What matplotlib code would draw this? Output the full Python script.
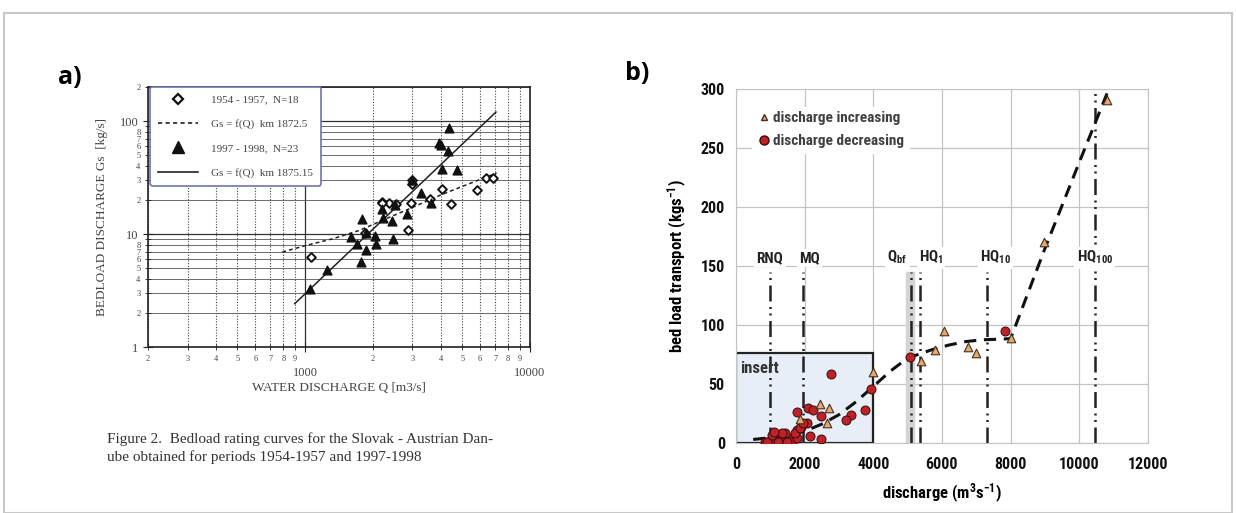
import matplotlib.pyplot as plt
import matplotlib.ticker as mticker
from matplotlib import font_manager
from matplotlib.patches import Rectangle
from matplotlib.lines import Line2D

# ---------------- panel a data (log-log rating curves) ----------------
q_5457 = [1067, 1855, 2186, 2365, 2531, 2873, 2942, 2990, 2990, 3589, 4074, 4436, 5786, 6346, 6868, 2186]
gs_5457 = [6.3, 10.3, 19.2, 19.0, 18.6, 10.9, 19.0, 27.9, 30.2, 20.5, 25.2, 18.6, 24.3, 31.5, 31.5, 19.0]

q_9798 = [1049, 1257, 1591, 1703, 1769, 1799, 1862, 1862, 2042, 2060, 2186, 2208, 2446,
          2463, 2500, 2844, 2990, 3260, 3612, 3948, 4030, 4054, 4328, 4370, 4713]
gs_9798 = [3.28, 4.77, 9.4, 8.1, 5.65, 13.7, 7.2, 10.3, 9.6, 8.2, 16.8, 13.9, 13.0,
           9.1, 17.9, 14.9, 29.9, 23.1, 18.8, 63.9, 60.9, 37.9, 54.3, 87.3, 37.1]

fit_5457_q = [792, 1013, 1331, 1750, 2300, 3024, 3973, 5224, 7105]
fit_5457_gs = [6.93, 7.94, 9.09, 10.8, 13.7, 17.3, 22.0, 27.3, 34.7]
fit_9798_q = [899, 7056]
fit_9798_gs = [2.42, 120]

# ---------------- panel b data (linear) ----------------
inc_q = [3990, 2433, 2706, 2647, 1869, 6053, 5392, 5810, 6754, 6998, 8020, 8973, 10803]
inc_gs = [60.4, 32.8, 29.4, 17.2, 20.0, 95.2, 69.5, 78.8, 81.6, 76.0, 88.7, 170.6, 290.7]

dec_q = [2764, 3922, 3766, 3348, 3212, 2111, 2257, 1772, 2472, 2063, 1898, 1772, 2161, 2472,
         847, 1042, 1188, 1334, 1382, 1528, 1625, 1772, 1723, 1869, 1966, 1236, 1431,
         890, 1035, 1326, 1100, 1480, 5060, 7825]
dec_gs = [58.5, 45.5, 28.0, 23.7, 19.5, 29.4, 28.0, 26.5, 22.9, 16.7, 13.3, 11.0, 5.9, 3.1,
          1.1, 4.0, 6.8, 5.6, 2.5, 4.0, 1.7, 4.0, 8.2, 12.7, 17.2, 1.1, 8.5,
          0.6, 7.0, 8.4, 9.0, 1.0, 72.6, 94.9]

curve_q = [500, 1000, 1500, 2000, 2500, 3000, 3500, 4000, 4500, 5000, 5300, 5700, 6200,
           6700, 7200, 7700, 8000, 9000, 10000, 10860]
curve_gs = [3, 4.5, 6.5, 10, 16, 24, 35, 48, 61, 72, 75, 79, 83, 86, 87.5, 88, 88.5, 165, 238, 300]

ref_names = ['RNQ', 'MQ', r'Q$_{\mathbf{bf}}$', r'HQ$_{\mathbf{1}}$', r'HQ$_{\mathbf{10}}$', r'HQ$_{\mathbf{100}}$']
ref_q = [990, 1950, 5100, 5350, 7300, 10450]

plt.rcParams['mathtext.default'] = 'bf'


# pick a narrow sans font if one is installed (reference uses Calibri-like text)
def narrow_font():
    fl = font_manager.fontManager.ttflist
    for pref in ['Liberation Sans Narrow', 'Roboto Condensed', 'Open Sans Condensed',
                 'DejaVu Sans', 'Noto Sans', 'Open Sans', 'Roboto', 'Inter']:
        for f in fl:
            if f.name == pref and ('Narrow' in pref or 'Condensed' in pref
                                   or str(f.stretch) in ('condensed', 'semi-condensed')):
                return pref
    return None


NARROW = narrow_font()
if NARROW:
    SANS = dict(family=NARROW, stretch='condensed')
    tick_fs, leg_fs, lab_fs, ref_fs, ins_fs = 11.5, 11, 12, 11, 12
    try:
        plt.rcParams['mathtext.fontset'] = 'custom'
        plt.rcParams['mathtext.bf'] = '%s:weight=bold:stretch=condensed' % NARROW
        plt.rcParams['mathtext.rm'] = '%s:weight=bold:stretch=condensed' % NARROW
    except Exception:
        plt.rcParams['mathtext.fontset'] = 'dejavusans'
else:
    SANS = dict(family='DejaVu Sans')
    tick_fs, leg_fs, lab_fs, ref_fs, ins_fs = 8.5, 8.3, 9.5, 8.5, 9
SERIF = 'Liberation Serif'

fig = plt.figure(figsize=(12.36, 5.13), dpi=100)
fig.patches.append(Rectangle((4 / 1236, 0), 1228 / 1236, 500 / 513, transform=fig.transFigure,
                             fill=False, edgecolor='#c8c8c8', lw=1.5, zorder=0))

# ================= panel a =================
ax = fig.add_axes([148 / 1236, 1 - 347 / 513, 382 / 1236, 260 / 513])
ax.set_xscale('log')
ax.set_yscale('log')
ax.set_xlim(200, 10000)
ax.set_ylim(1, 200)

ax.plot(fit_5457_q, fit_5457_gs, ls=(0, (2.5, 2)), color='#222', lw=1.1)
ax.plot(fit_9798_q, fit_9798_gs, '-', color='#222', lw=1.1)
ax.scatter(q_5457, gs_5457, marker='D', s=20, facecolor='white', edgecolor='#111', lw=1.4, zorder=3)
ax.scatter(q_9798, gs_9798, marker='^', s=40, color='#111', zorder=3)

ax.xaxis.set_major_locator(mticker.FixedLocator([1000, 10000]))
ax.xaxis.set_minor_locator(mticker.LogLocator(subs=range(2, 10), numticks=20))
ax.xaxis.set_major_formatter(mticker.FuncFormatter(lambda v, p: '%d' % v))
ax.yaxis.set_major_locator(mticker.FixedLocator([1, 10, 100]))
ax.yaxis.set_minor_locator(mticker.LogLocator(subs=range(2, 10), numticks=20))
ax.yaxis.set_major_formatter(mticker.FuncFormatter(lambda v, p: '%d' % v))


def lead_digit(v):
    return int(round(v / 10 ** (len(str(int(round(v)))) - 1)))


ax.xaxis.set_minor_formatter(mticker.FuncFormatter(lambda v, p: str(lead_digit(v))))
ax.yaxis.set_minor_formatter(mticker.FuncFormatter(lambda v, p: '' if lead_digit(v) == 9 else str(lead_digit(v))))
ax.tick_params(which='both', direction='inout', color='#222', labelcolor='#444')
ax.tick_params(which='major', length=7, labelsize=9)
ax.tick_params(which='minor', length=4, labelsize=6)
ax.tick_params(axis='x', which='major', pad=11)
ax.tick_params(axis='x', which='minor', pad=4)
for lab in ax.get_xticklabels(which='both') + ax.get_yticklabels(which='both'):
    lab.set_family(SERIF)

ax.grid(True, which='major', axis='both', color='#333', lw=0.9)
ax.grid(True, which='minor', axis='y', color='#555', lw=0.6)
ax.grid(True, which='minor', axis='x', color='#444', lw=0.8, ls=(0, (1, 1.5)))
for s in ax.spines.values():
    s.set_color('#222')
    s.set_linewidth(1.2)

ax.set_xlabel('WATER DISCHARGE Q [m3/s]', family=SERIF, fontsize=9.5, color='#444', labelpad=2)
ax.set_ylabel('BEDLOAD DISCHARGE Gs  [kg/s]', family=SERIF, fontsize=9.5, color='#444', labelpad=8)

handles = [Line2D([], [], marker='D', ls='none', ms=5.5, mfc='white', mec='#111', mew=1.6),
           Line2D([], [], ls=(0, (2.5, 2)), color='#222', lw=1.2),
           Line2D([], [], marker='^', ls='none', ms=9, color='#111'),
           Line2D([], [], ls='-', color='#222', lw=1.2)]
labels = ['1954 - 1957,  N=18', 'Gs = f(Q)  km 1872.5', '1997 - 1998,  N=23', 'Gs = f(Q)  km 1875.15']
leg = ax.legend(handles, labels, loc='upper left', bbox_to_anchor=(0.006, 1.0), borderaxespad=0,
                prop={'family': SERIF, 'size': 8}, labelspacing=1.3, handlelength=3.6,
                handletextpad=1.2, borderpad=0.7, framealpha=1, fancybox=True)
leg.get_frame().set_edgecolor('#6a78a8')
leg.get_frame().set_linewidth(1.2)
for t in leg.get_texts():
    t.set_color('#444')

fig.text(70 / 1236, 1 - 77 / 513, 'a)', fontsize=18, fontweight='bold', family=['Open Sans', 'DejaVu Sans'],
         ha='center', va='center')
fig.text(107 / 1236, 1 - 448 / 513,
         'Figure 2.  Bedload rating curves for the Slovak - Austrian Dan-\nube obtained for periods 1954-1957 and 1997-1998',
         family=SERIF, fontsize=11, color='#333', va='center', linespacing=1.45)

# ================= panel b =================
bx = fig.add_axes([736 / 1236, 1 - 443 / 513, 412 / 1236, 354 / 513])
bx.set_xlim(0, 12000)
bx.set_ylim(0, 300)
bx.set_xticks(range(0, 12001, 2000))
bx.set_yticks(range(0, 301, 50))
bx.grid(True, color='#c4c4c4', lw=0.9)
bx.set_axisbelow(True)
for s in bx.spines.values():
    s.set_color('#c4c4c4')
bx.tick_params(length=0, labelsize=tick_fs, pad=8, labelcolor='#111')
bx.tick_params(axis='x', pad=10)
for lab in bx.get_xticklabels() + bx.get_yticklabels():
    lab.set(**SANS)
    lab.set_fontweight('bold')

bx.add_patch(Rectangle((0, 0), 4000, 76, facecolor='#e8eef7', edgecolor='#222', lw=1.6, zorder=1.5))
bx.text(130, 63, 'insert', fontsize=ins_fs, fontweight='bold', color='#333', va='center', zorder=4, **SANS)

dd = (0, (6.4, 2.2, 0.8, 1.8, 0.8, 2.2))
bx.axvspan(4950, 5180, ymax=145 / 300, color='#d4d4d4', zorder=1.6)
for q in ref_q[:-1]:
    bx.plot([q, q], [0, 145], color='#222', lw=1.8, ls=dd, zorder=1.7)
bx.plot([ref_q[-1]] * 2, [0, 300], color='#222', lw=1.8, ls=dd, zorder=1.7)
label_q = [990, 2150, 4700, 5680, 7550, 10450]
for name, q in zip(ref_names, label_q):
    bx.text(q, 157, name, ha='center', va='center', fontsize=ref_fs, fontweight='bold',
            color='#222', zorder=2, bbox=dict(facecolor='white', edgecolor='none', pad=1.5), **SANS)

bx.plot(curve_q, curve_gs, color='#111', lw=2.2, ls=(0, (4, 2.5)), zorder=2.5)
bx.scatter(dec_q, dec_gs, s=42, marker='o', facecolor='#bd2229', edgecolor='#3a0a0a', lw=0.7, zorder=3)
bx.scatter(inc_q, inc_gs, s=38, marker='^', facecolor='#e4a877', edgecolor='#4a3018', lw=0.8, zorder=3)

lh = [Line2D([], [], marker='^', ls='none', ms=5, mfc='#e4a877', mec='#4a3018'),
      Line2D([], [], marker='o', ls='none', ms=6.5, mfc='#bd2229', mec='#3a0a0a')]
lg = bx.legend(lh, ['discharge increasing', 'discharge decreasing'], loc='upper left',
               bbox_to_anchor=(0.02, 0.972), frameon=True, framealpha=1, edgecolor='white',
               fancybox=False, prop=dict(size=leg_fs, weight='bold', **SANS),
               handletextpad=0.1, handlelength=1.0, labelspacing=0.6, borderpad=0.3)
for t in lg.get_texts():
    t.set_color('#404040')

bx.set_xlabel(r'discharge (m$^{3}$s$^{-1}$)', fontsize=lab_fs, fontweight='bold', labelpad=7, **SANS)
bx.set_ylabel(r'bed load transport (kgs$^{-1}$)', fontsize=lab_fs, fontweight='bold', labelpad=8, **SANS)

fig.text(637 / 1236, 1 - 73 / 513, 'b)', fontsize=18, fontweight='bold', family=['Open Sans', 'DejaVu Sans'],
         ha='center', va='center')

fig.savefig('out.png', dpi=100)
